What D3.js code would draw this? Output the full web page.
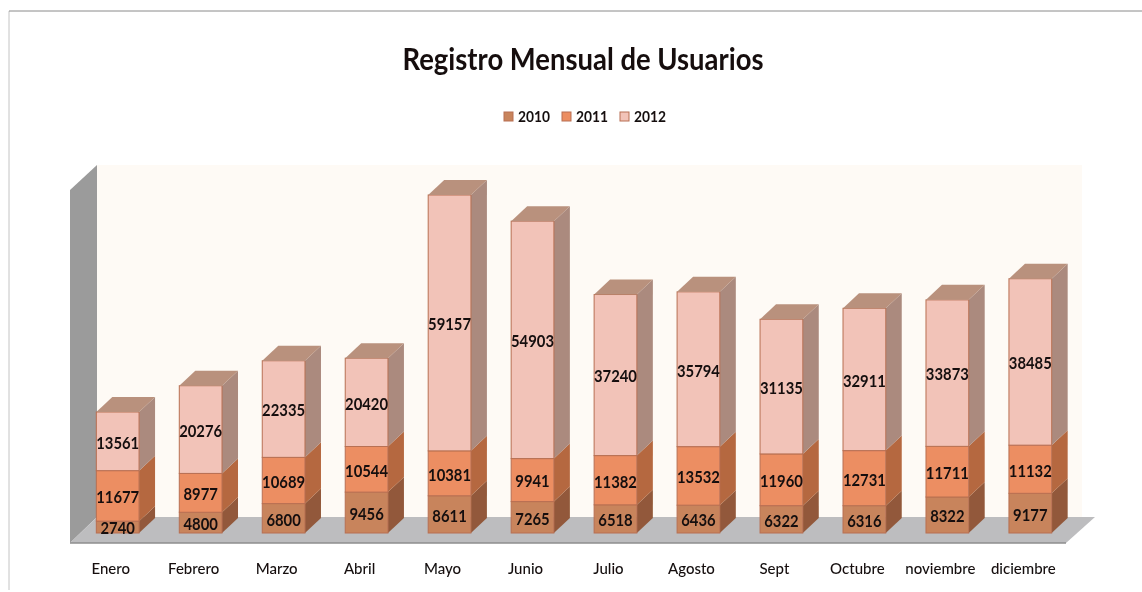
<!DOCTYPE html>
<meta charset='utf-8'>
<script src='https://d3js.org/d3.v7.min.js'></script>
<style>
html, body { margin: 0; background: #fff; }
text { font-family: Lato, "Open Sans", sans-serif; fill: #141010; }
</style>
<body>
<script>
var months = ['Enero', 'Febrero', 'Marzo', 'Abril', 'Mayo', 'Junio', 'Julio', 'Agosto', 'Sept', 'Octubre', 'noviembre', 'diciembre'];
var years = ['2010', '2011', '2012'];
var values2010 = [2740, 4800, 6800, 9456, 8611, 7265, 6518, 6436, 6322, 6316, 8322, 9177];
var values2011 = [11677, 8977, 10689, 10544, 10381, 9941, 11382, 13532, 11960, 12731, 11711, 11132];
var values2012 = [13561, 20276, 22335, 20420, 59157, 54903, 37240, 35794, 31135, 32911, 33873, 38485];

var width = 1142,
    height = 592;

var svg = d3.select('body').append('svg').attr('width', width).attr('height', height)
    .style('display', 'block');

// the reference is a soft scan, a small blur gets closer to it
var defs = svg.append('defs');
defs.append('filter').attr('id', 'soft').append('feGaussianBlur').attr('stdDeviation', 0.5);

var root = svg.append('g').attr('filter', 'url(#soft)');

// frame of the page
root.append('line').attr('x1', 9).attr('y1', 590).attr('x2', 9).attr('y2', 11)
    .attr('stroke', '#c4c4c4').attr('stroke-width', 1);
root.append('line').attr('x1', 9).attr('y1', 11).attr('x2', 1142).attr('y2', 11)
    .attr('stroke', '#8a8a8a').attr('stroke-width', 1);

var x = d3.scaleBand().domain(months).range([76, 1072]).paddingInner(0.485).paddingOuter(0.245);
var y = d3.scaleLinear().domain([0, 80000]).range([533, 187]);

var depthX = 16,
    depthY = -15;

// walls and floor
root.append('polygon').attr('points', '97,165 1082,165 1082,517 97,517').attr('fill', '#fefaf5');
root.append('polygon').attr('points', '70,190 97,165 97,517 70,543').attr('fill', '#9b9b9b');
root.append('polygon').attr('points', '70,543 97,517 1095,517 1066,543').attr('fill', '#bdbdbf');
root.append('line').attr('x1', 70).attr('y1', 543).attr('x2', 1066).attr('y2', 543)
    .attr('stroke', '#8e8e8e').attr('stroke-width', 1.5);

var frontColor = {'2010': '#c8845c', '2011': '#ec8e62', '2012': '#f2c3b8'};
var sideColor = {'2010': '#92593a', '2011': '#b5683f', '2012': '#ab8a7e'};
var topColor = '#b9917d';
var edgeColor = '#b86f52';

var rows = months.map(function(m, i) {
  return {month: m, '2010': values2010[i], '2011': values2011[i], '2012': values2012[i]};
});
var stacked = d3.stack().keys(years)(rows);

var layer = root.selectAll('.layer').data(stacked).enter().append('g').attr('class', 'layer');

// side faces
layer.selectAll('.side').data(function(s) {
  return s.map(function(d) { return {key: s.key, d: d}; });
}).enter().append('path')
    .attr('fill', function(c) { return sideColor[c.key]; })
    .attr('d', function(c) {
      var r = x(c.d.data.month) + x.bandwidth();
      return 'M' + r + ',' + y(c.d[0]) + 'l' + depthX + ',' + depthY +
        'V' + (y(c.d[1]) + depthY) + 'l' + (-depthX) + ',' + (-depthY) + 'Z';
    });

// front faces
layer.selectAll('.front').data(function(s) {
  return s.map(function(d) { return {key: s.key, d: d}; });
}).enter().append('rect')
    .attr('x', function(c) { return x(c.d.data.month); })
    .attr('y', function(c) { return y(c.d[1]); })
    .attr('width', x.bandwidth())
    .attr('height', function(c) { return y(c.d[0]) - y(c.d[1]); })
    .attr('fill', function(c) { return frontColor[c.key]; })
    .attr('stroke', edgeColor)
    .attr('stroke-width', 1);

// top of each bar
root.selectAll('.cap').data(stacked[2]).enter().append('path')
    .attr('fill', topColor)
    .attr('d', function(d) {
      var l = x(d.data.month), t = y(d[1]);
      return 'M' + l + ',' + t + 'l' + depthX + ',' + depthY + 'h' + x.bandwidth() +
        'l' + (-depthX) + ',' + (-depthY) + 'Z';
    });

// value labels, narrowed because the original font is condensed
root.selectAll('.valueGroup').data(stacked).enter().append('g')
  .selectAll('.value').data(function(s) { return s; }).enter().append('text')
    .attr('x', function(d) { return x(d.data.month) + x.bandwidth() / 2; })
    .attr('y', function(d) { return (y(d[0]) + y(d[1])) / 2 + 3; })
    .attr('text-anchor', 'middle')
    .attr('dominant-baseline', 'middle')
    .attr('font-size', 17)
    .attr('font-weight', 700)
    .attr('lengthAdjust', 'spacingAndGlyphs')
    .attr('textLength', function(d) { return String(d[1] - d[0]).length * 8.6; })
    .text(function(d) { return d[1] - d[0]; });

// month labels
var axis = root.append('g')
    .attr('transform', 'translate(-7,554)')
    .call(d3.axisBottom(x).tickSize(0).tickPadding(9));
axis.select('.domain').remove();
axis.selectAll('text').attr('font-size', 15).attr('font-family', 'Lato').attr('font-weight', 500);

// title
root.append('text').attr('x', 583).attr('y', 70).attr('text-anchor', 'middle')
    .attr('font-size', 30).attr('font-weight', 700)
    .attr('textLength', 361).attr('lengthAdjust', 'spacingAndGlyphs')
    .text('Registro Mensual de Usuarios');

// legend
var legendX = d3.scaleOrdinal().domain(years).range([504, 562, 620]);
var legend = root.selectAll('.legend').data(years).enter().append('g')
    .attr('transform', function(d) { return 'translate(' + legendX(d) + ',112)'; });
legend.append('rect').attr('width', 9).attr('height', 9)
    .attr('fill', function(d) { return frontColor[d]; })
    .attr('stroke', edgeColor);
legend.append('text').attr('x', 14).attr('y', 10).attr('font-size', 16).attr('font-weight', 700)
    .attr('textLength', 32).attr('lengthAdjust', 'spacingAndGlyphs')
    .text(function(d) { return d; });
</script>
</body>
